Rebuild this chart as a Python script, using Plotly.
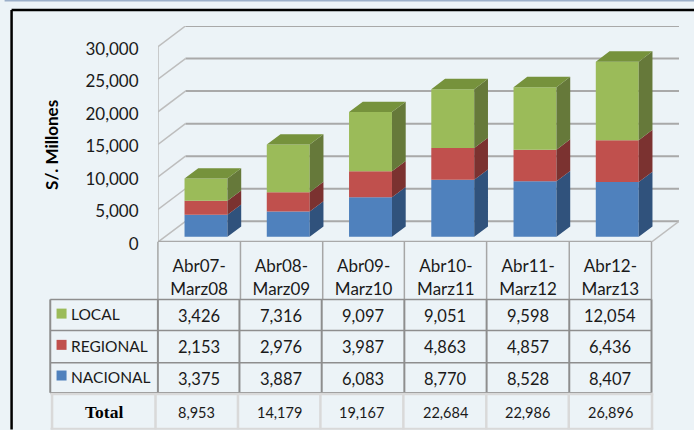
import plotly.graph_objects as go

periods = ["Abr07-<br>Marz08", "Abr08-<br>Marz09", "Abr09-<br>Marz10",
           "Abr10-<br>Marz11", "Abr11-<br>Marz12", "Abr12-<br>Marz13"]
local = [3426, 7316, 9097, 9051, 9598, 12054]
regional = [2153, 2976, 3987, 4863, 4857, 6436]
nacional = [3375, 3887, 6083, 8770, 8528, 8407]
total = [8953, 14179, 19167, 22684, 22986, 26896]
y_ticks = [0, 5000, 10000, 15000, 20000, 25000, 30000]

W, H = 694, 430
L, R, T, B = 157.5, 678.8, 26.0, 242.3      # plot area in page pixels
cat_px = 82.3
depth_x = 27.5 / cat_px                     # full floor depth, category units
depth_y = 20.7 / (32.6 / 5000)              # full floor depth, value units
BAR_W = 0.522
BAR_NEAR, BAR_FAR = 0.25, 0.75
LINE = "#A9A9A9"
TXT = "#1a1a1a"
FONT = "Lato"


def px(x):
    return (x - L) / (R - L)


def py(y):
    return (B - y) / (B - T)


fig = go.Figure()

# wall grid (below all traces)
shapes = []
for v in y_ticks:
    if v > 0:
        shapes.append(dict(type="line", layer="below", xref="x", yref="y",
                           x0=depth_x, x1=6 + depth_x, y0=v + depth_y, y1=v + depth_y,
                           line=dict(color=LINE, width=2)))
    shapes.append(dict(type="line", layer="below", xref="x", yref="y",
                       x0=0, x1=depth_x, y0=v, y1=v + depth_y,
                       line=dict(color="#BDBDBD", width=1.5)))
shapes.append(dict(type="line", layer="below", xref="x", yref="y", x0=depth_x, x1=6 + depth_x,
                   y0=depth_y, y1=depth_y, line=dict(color=LINE, width=2)))
shapes.append(dict(type="line", layer="below", xref="x", yref="y", x0=6, x1=6 + depth_x,
                   y0=0, y1=depth_y, line=dict(color="#BDBDBD", width=1.5)))
shapes.append(dict(type="line", layer="below", xref="x", yref="y", x0=0, x1=0,
                   y0=0, y1=30000, line=dict(color="#BDBDBD", width=1.5)))
shapes.append(dict(type="line", layer="below", xref="x", yref="y", x0=0, x1=6,
                   y0=0, y1=0, line=dict(color=LINE, width=2.5)))


def pline(x0, y0, x1, y1, color, width):
    shapes.append(dict(type="line", xref="paper", yref="paper", x0=px(x0), x1=px(x1),
                       y0=py(y0), y1=py(y1), line=dict(color=color, width=width)))


# page frame
pline(4, 0.5, 694, 0.5, "#9CB0CA", 2)
pline(11, 10, 694, 10, "#000000", 2.5)
pline(11, 10, 11, 430, "#000000", 2.5)

# category header ticks
head_x = [157.4, 240, 322.3, 404, 486.3, 569, 651.3]
for x in head_x:
    pline(x, 242, x, 300, "#A6A6A6", 1.5)

# data table grid
body_x = [49.7, 157.4, 239, 321.3, 404, 486.3, 569, 651.3]
body_y = [299.8, 330.8, 363.3, 393.3]
for y in body_y:
    pline(49.7, y, 651.3, y, "#8E8E8E", 1.5)
for x in body_x:
    pline(x, 299.8, x, 393.3, "#8E8E8E", 2)

# total row grid
tot_x = [51.5, 155, 237.5, 320, 403, 486, 568.5, 651.8]
pline(50, 394.5, 653, 394.5, "#D9D9D9", 2.5)
pline(50, 429.3, 653, 429.3, "#D9D9D9", 2)
for x in tot_x:
    pline(x, 394, x, 430, "#D9D9D9", 2.5)

series = [
    ("NACIONAL", nacional, "#4F81BD", "#30527C", "#3F6797", 371, 377.3, 379.3),
    ("REGIONAL", regional, "#C0504D", "#7B3230", "#8E3B39", 340.3, 346, 347.3),
    ("LOCAL", local, "#9BBB59", "#66793A", "#76923C", 309, 314.7, 316.3),
]

annotations = []


def note(x, y, text, size, color=TXT, family=FONT, anchor="center", **kw):
    annotations.append(dict(xref="paper", yref="paper", x=px(x), y=py(y), text=text,
                            showarrow=False, xanchor=anchor, yanchor="middle",
                            font=dict(family=family, size=size, color=color), **kw))


centers = [i + 0.5 for i in range(6)]
dxn, dxf = BAR_NEAR * depth_x, BAR_FAR * depth_x
dyn, dyf = BAR_NEAR * depth_y, BAR_FAR * depth_y
base = [0] * 6

for name, vals, front, side, top, key_y, label_y, val_y in series:
    # front faces
    fig.add_trace(go.Bar(x=[c + dxn for c in centers], y=vals,
                         base=[b + dyn for b in base], width=BAR_W, name=name,
                         marker=dict(color=front, line=dict(width=0)), hoverinfo="skip"))
    # side and top faces
    sx, sy, tx, ty = [], [], [], []
    for c, b, v in zip(centers, base, vals):
        r = c + BAR_W / 2
        l = c - BAR_W / 2
        sx += [r + dxn, r + dxf, r + dxf, r + dxn, r + dxn, None]
        sy += [b + dyn, b + dyf, b + v + dyf, b + v + dyn, b + dyn, None]
        tx += [l + dxn, r + dxn, r + dxf, l + dxf, l + dxn, None]
        ty += [b + v + dyn, b + v + dyn, b + v + dyf, b + v + dyf, b + v + dyn, None]
    fig.add_trace(go.Scatter(x=sx, y=sy, mode="lines", fill="toself", fillcolor=side,
                             line=dict(width=0), hoverinfo="skip", name=name + " lado"))
    if name == "LOCAL":
        fig.add_trace(go.Scatter(x=tx, y=ty, mode="lines", fill="toself", fillcolor=top,
                                 line=dict(width=0), hoverinfo="skip", name=name + " tope"))
    base = [b + v for b, v in zip(base, vals)]

    # table row
    shapes.append(dict(type="rect", xref="paper", yref="paper", x0=px(56), x1=px(66),
                       y0=py(key_y), y1=py(key_y + 10), fillcolor=front, line=dict(width=0)))
    note(68.5, label_y, name, 15.5, anchor="left")
    for c_px, v in zip([198.7, 281, 363, 445, 527.5, 610], vals):
        note(c_px, val_y, f"{v:,}", 16.5)

# total row
note(103, 412.5, "<b>Total</b>", 17.5, color="#000000", family="Liberation Serif")
for c_px, v in zip([196, 279, 361.5, 445, 527, 610], total):
    note(c_px, 413, f"{v:,}", 14.5)

# vertical axis title
note(51.5, 145, "<b>S/. Millones</b>", 17, color="#000000", textangle=-90)

fig.update_layout(
    width=W, height=H, autosize=False,
    margin=dict(l=L, r=W - R, t=T, b=H - B, pad=0),
    paper_bgcolor="#ECF3F7", plot_bgcolor="rgba(0,0,0,0)",
    barmode="overlay", showlegend=False,
    shapes=shapes, annotations=annotations,
    xaxis=dict(range=[0, 6 + depth_x], showgrid=False, zeroline=False, showline=False,
               tickmode="array", tickvals=centers, ticktext=periods,
               ticks="outside", ticklen=9, tickcolor="rgba(0,0,0,0)",
               tickfont=dict(family=FONT, size=17, color=TXT), tickangle=0),
    yaxis=dict(range=[0, 30000 + depth_y], showgrid=False, zeroline=False, showline=False,
               tickmode="array", tickvals=y_ticks, tickformat=",",
               ticks="outside", ticklen=15, tickcolor="rgba(0,0,0,0)", ticklabelshift=2,
               tickfont=dict(family=FONT, size=17, color=TXT)),
)

fig.write_html("out.html", config={"displayModeBar": False},
               post_script="document.body.style.margin='0';document.body.style.overflow='hidden';")
